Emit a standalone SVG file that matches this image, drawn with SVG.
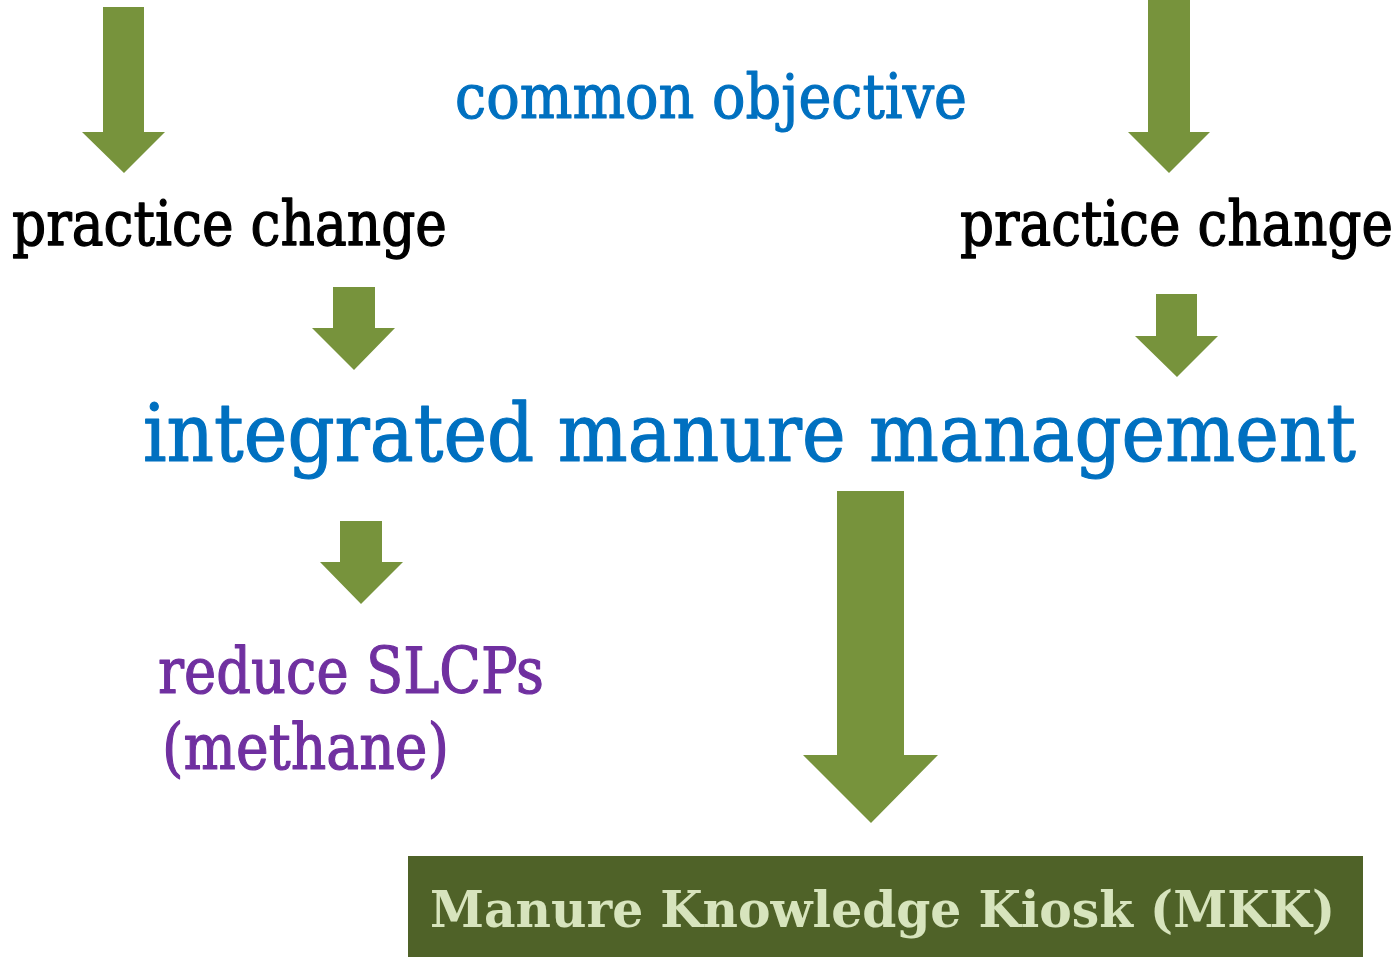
<svg xmlns="http://www.w3.org/2000/svg" width="1400" height="957" viewBox="0 0 1400 957">
<style>
.arrow{fill:#77933c;}
.t{font-family:"DejaVu Serif","Liberation Serif",serif;stroke-width:1.1;stroke-linejoin:round;}
.blue{fill:#0070c0;stroke:#0070c0;}
.black{fill:#000000;stroke:#000000;}
.purple{fill:#7030a0;stroke:#7030a0;}
.mkk{fill:#d7e4bd;font-weight:bold;stroke:none;}
</style>
<rect width="1400" height="957" fill="#ffffff"/>
<g id="connectors">
<polygon class="arrow" points="103,7 144,7 144,132 165,132 124,173 82,132 103,132"/>
<polygon class="arrow" points="1148,0 1190,0 1190,132 1210,132 1169,173 1128,132 1148,132"/>
<polygon class="arrow" points="333,287 375,287 375,328 395,328 354,370 312,328 333,328"/>
<polygon class="arrow" points="1156,294 1197,294 1197,336 1218,336 1177,377 1135,336 1156,336"/>
<polygon class="arrow" points="340,521 382,521 382,562 403,562 361,604 320,562 340,562"/>
<polygon class="arrow" points="837,491 904,491 904,755 938,755 871,823 803,755 837,755"/>
</g>
<g id="common-objective">
<text class="t blue" transform="translate(455,118) scale(1,1.12)" font-size="55.5" textLength="512" lengthAdjust="spacingAndGlyphs">common objective</text>
</g>
<g id="practice-change-left">
<text class="t black" transform="translate(12,245) scale(1,1.24)" font-size="50" textLength="435" lengthAdjust="spacingAndGlyphs">practice change</text>
</g>
<g id="practice-change-right">
<text class="t black" transform="translate(960,245) scale(1,1.24)" font-size="50" textLength="433" lengthAdjust="spacingAndGlyphs">practice change</text>
</g>
<g id="integrated-manure-management">
<text class="t blue" transform="translate(143,461) scale(1,1.12)" font-size="72" textLength="1213" lengthAdjust="spacingAndGlyphs">integrated manure management</text>
</g>
<g id="reduce-slcps">
<text class="t purple" transform="translate(158,693) scale(1,1.12)" font-size="57" textLength="386" lengthAdjust="spacingAndGlyphs">reduce SLCPs</text>
<text class="t purple" transform="translate(162,769) scale(1,1.12)" font-size="57" textLength="287" lengthAdjust="spacingAndGlyphs">(methane)</text>
</g>
<g id="mkk">
<rect x="408" y="856" width="955" height="101" fill="#4f6228"/>
<text class="t mkk" x="430" y="927" font-size="51" textLength="905" lengthAdjust="spacingAndGlyphs">Manure Knowledge Kiosk (MKK)</text>
</g>
</svg>
